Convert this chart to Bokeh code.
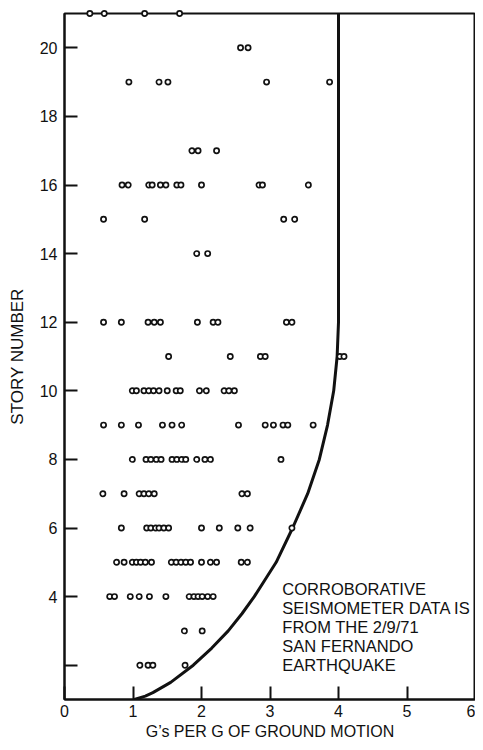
from bokeh.plotting import figure
from bokeh.models import FixedTicker, Label, Range1d, ColumnDataSource
from bokeh.embed import file_html
from bokeh.resources import INLINE

# ---- data: G's per g of ground motion ----
story_21 = [0.37, 0.58, 1.17, 1.68]
story_20 = [2.57, 2.68]
story_19 = [0.94, 1.38, 1.51, 2.95, 3.87]
story_17 = [1.86, 1.95, 2.22]
story_16 = [0.84, 0.93, 1.23, 1.28, 1.40, 1.48, 1.64, 1.70, 2.00, 2.84, 2.89, 3.56]
story_15 = [0.57, 1.17, 3.20, 3.36]
story_14 = [1.93, 2.09]
story_12 = [0.57, 0.83, 1.22, 1.31, 1.40, 1.94, 2.17, 2.24, 3.24, 3.32]
story_11 = [1.52, 2.42, 2.86, 2.93, 4.02, 4.08]
story_10 = [0.99, 1.05, 1.16, 1.23, 1.30, 1.38, 1.50, 1.63, 1.69, 1.97, 2.07, 2.33, 2.40, 2.48]
story_9 = [0.57, 0.83, 1.08, 1.43, 1.57, 1.71, 2.54, 2.93, 3.05, 3.19, 3.26, 3.63]
story_8 = [0.99, 1.19, 1.26, 1.34, 1.41, 1.57, 1.64, 1.71, 1.77, 1.93, 2.05, 2.13, 3.16]
story_7 = [0.56, 0.87, 1.09, 1.16, 1.23, 1.31, 2.59, 2.67]
story_6 = [0.83, 1.20, 1.26, 1.33, 1.38, 1.45, 1.52, 2.00, 2.26, 2.53, 2.71, 3.32]
story_5 = [0.76, 0.87, 0.99, 1.05, 1.11, 1.18, 1.27, 1.56, 1.63, 1.70, 1.77, 1.84,
           2.00, 2.13, 2.22, 2.58, 2.67]
story_4 = [0.66, 0.73, 0.96, 1.09, 1.24, 1.48, 1.82, 1.89, 1.95, 2.01, 2.09, 2.17]
story_3 = [1.75, 2.01]
story_2 = [1.10, 1.22, 1.29, 1.76]

rows = {21: story_21, 20: story_20, 19: story_19, 17: story_17, 16: story_16,
        15: story_15, 14: story_14, 12: story_12, 11: story_11, 10: story_10,
        9: story_9, 8: story_8, 7: story_7, 6: story_6, 5: story_5, 4: story_4,
        3: story_3, 2: story_2}

# design curve
curve_story = [1.0, 1.1, 1.2, 1.5, 2.0, 2.5, 3.0, 3.5, 4.0, 4.5, 5.0, 6.0, 7.0,
               8.0, 9.0, 10.0, 11.0, 12.0, 21.0]
curve_g = [1.02, 1.18, 1.29, 1.55, 1.88, 2.15, 2.39, 2.59, 2.77, 2.93, 3.09, 3.33,
           3.55, 3.72, 3.84, 3.93, 3.98, 4.0, 4.0]

x_ticks = [0, 1, 2, 3, 4, 5, 6]
y_ticks = [2, 4, 6, 8, 10, 12, 14, 16, 18, 20]

note = "CORROBORATIVE\nSEISMOMETER DATA IS\nFROM THE 2/9/71\nSAN FERNANDO\nEARTHQUAKE"
x_title = "G\u2019s PER G OF GROUND MOTION"
y_title = "STORY NUMBER"

FONT = "Liberation Sans"
INK = "#111111"

xs, ys = [], []
for s, vals in rows.items():
    for v in vals:
        xs.append(v)
        ys.append(s)
pts = ColumnDataSource(dict(g=xs, story=ys))
crv = ColumnDataSource(dict(g=curve_g, story=curve_story))

p = figure(width=475, height=742, x_range=Range1d(0, 6), y_range=Range1d(1, 21),
           output_backend="svg", toolbar_location=None,
           min_border_left=64, min_border_right=0, min_border_top=13,
           min_border_bottom=30)

p.grid.visible = False
p.outline_line_color = INK
p.outline_line_width = 2
p.background_fill_color = "white"
p.border_fill_color = "white"

for ax in (p.xaxis[0], p.yaxis[0]):
    ax.axis_line_color = INK
    ax.axis_line_width = 2
    ax.major_tick_line_color = INK
    ax.major_tick_line_width = 2
    ax.major_tick_in = 13
    ax.major_tick_out = 0
    ax.minor_tick_line_color = None
    ax.major_label_text_font = FONT
    ax.major_label_text_font_size = "16px"
    ax.major_label_text_color = INK
    ax.axis_label_text_font = FONT
    ax.axis_label_text_font_size = "16px"
    ax.axis_label_text_font_style = "normal"
    ax.axis_label_text_color = INK

p.xaxis.ticker = FixedTicker(ticks=x_ticks)
p.xaxis.major_label_standoff = 5
p.xaxis.axis_label = x_title
p.xaxis.axis_label_standoff = 3

p.yaxis.ticker = FixedTicker(ticks=y_ticks)
p.yaxis.major_label_overrides = {2: ""}
p.yaxis.major_label_standoff = 7
p.yaxis.axis_label = y_title
p.yaxis.axis_label_text_font_size = "17px"
p.yaxis.axis_label_standoff = 10

p.line("g", "story", source=crv, line_color=INK, line_width=3)
p.scatter("g", "story", source=pts, marker="circle", size=5.2, line_width=1.7,
          line_color=INK, fill_color="white", level="overlay")

p.add_layout(Label(x=3.18, y=4.48, text=note, text_font=FONT, text_font_size="16.5px",
                   text_color=INK, text_baseline="top", text_align="left",
                   text_line_height=1.06))

open("out.html", "w").write(file_html(p, INLINE))
